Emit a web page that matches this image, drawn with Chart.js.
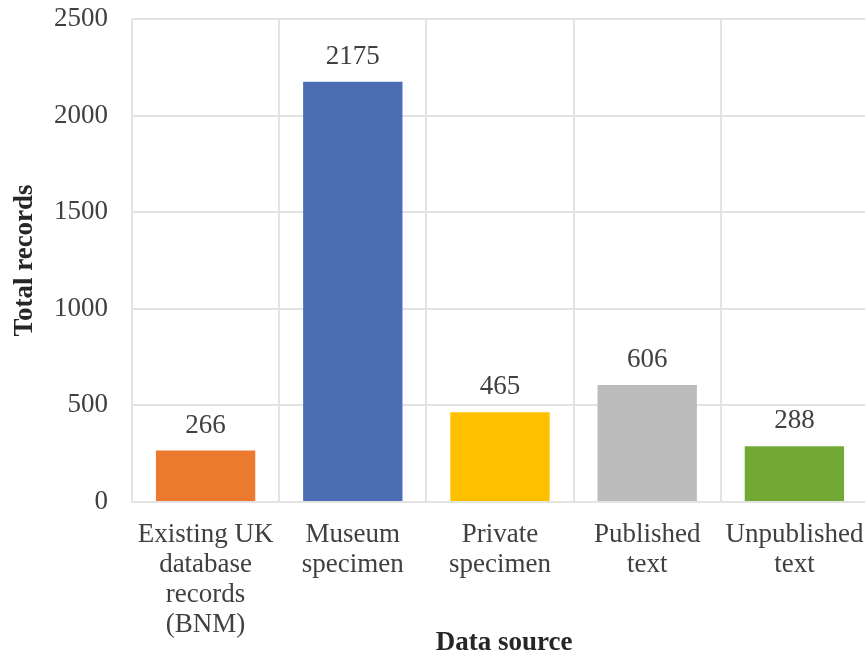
<!DOCTYPE html>
<html>
<head>
<meta charset="utf-8">
<script src="https://cdn.jsdelivr.net/npm/chart.js@4/dist/chart.umd.min.js"></script>
<style>
  html, body { margin: 0; padding: 0; background: #fff; overflow: hidden; }
  #wrap { width: 865px; height: 657px; overflow: hidden; }
</style>
</head>
<body>
<div id="wrap"><canvas id="grafico" width="868" height="657"></canvas></div>
<script>
const fuentes = [
  ['Existing UK', 'database', 'records', '(BNM)'],
  ['Museum', 'specimen'],
  ['Private', 'specimen'],
  ['Published', 'text'],
  ['Unpublished', 'text']
];
const registros = [266, 2175, 465, 606, 288];
const colores = ['#EB7A2E', '#4C6CB4', '#FFC000', '#BBBBBB', '#72A834'];
const tituloX = 'Data source';
const tituloY = 'Total records';

const serif = "'Liberation Serif', 'Times New Roman', serif";

// numbers above each bar and both axis titles
const etiquetas = {
  id: 'etiquetas',
  afterDatasetsDraw(chart) {
    const ctx = chart.ctx;
    const meta = chart.getDatasetMeta(0);
    const area = chart.chartArea;
    ctx.save();
    ctx.font = '27px ' + serif;
    ctx.fillStyle = '#404040';
    ctx.textAlign = 'center';
    ctx.textBaseline = 'alphabetic';
    meta.data.forEach((bar, i) => {
      ctx.fillText(String(registros[i]), bar.x, bar.y - 18);
    });

    ctx.font = 'bold 27px ' + serif;
    ctx.fillStyle = '#262626';
    ctx.fillText(tituloX, (area.left + area.right) / 2 + 4, 650);

    ctx.translate(32, (area.top + area.bottom) / 2);
    ctx.rotate(-Math.PI / 2);
    ctx.fillText(tituloY, 0, 0);
    ctx.restore();
  }
};

new Chart(document.getElementById('grafico'), {
  type: 'bar',
  data: {
    labels: fuentes,
    datasets: [{
      data: registros,
      backgroundColor: colores,
      categoryPercentage: 0.675,
      barPercentage: 1
    }]
  },
  options: {
    responsive: false,
    animation: false,
    layout: { padding: { top: 19, right: 0, left: 0, bottom: 0 } },
    plugins: {
      legend: { display: false },
      tooltip: { enabled: false }
    },
    scales: {
      x: {
        grid: { color: '#E3E3E3', lineWidth: 2, drawTicks: false },
        border: { display: false },
        ticks: {
          color: '#404040',
          font: { family: serif, size: 27, lineHeight: 1.11 },
          padding: 18,
          maxRotation: 0,
          autoSkip: false
        },
        afterFit(scale) {
          scale.height = 155;
          scale.paddingLeft = 0;
          scale.paddingRight = 0;
        }
      },
      y: {
        min: 0,
        max: 2500,
        grid: { color: '#E3E3E3', lineWidth: 2, drawTicks: false },
        border: { display: false },
        ticks: {
          stepSize: 500,
          color: '#404040',
          font: { family: serif, size: 27 },
          padding: 24,
          callback: v => String(v)
        },
        afterFit(scale) {
          scale.width = 132;
          scale.paddingTop = 0;
          scale.paddingBottom = 0;
        }
      }
    }
  },
  plugins: [etiquetas]
});
</script>
</body>
</html>
